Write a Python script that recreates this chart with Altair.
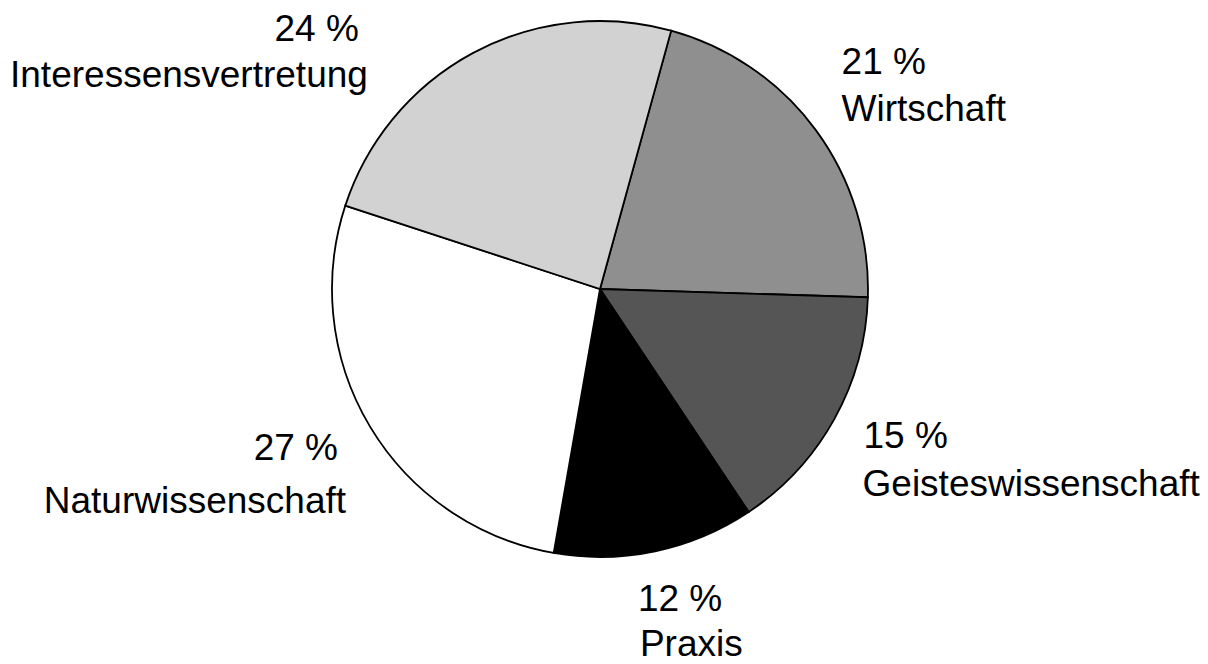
import math
import altair as alt
import pandas as pd

# ---- data ----
categories = ["Wirtschaft", "Geisteswissenschaft", "Praxis", "Naturwissenschaft", "Interessensvertretung"]
shares = [21, 15, 12, 27, 24]
pct_labels = ["21 %", "15 %", "12 %", "27 %", "24 %"]
order = [0, 1, 2, 3, 4]

# ---- styles ----
fills = ["#8f8f8f", "#555555", "#000000", "#ffffff", "#d2d2d2"]
start = math.radians(15.4)
FONT = "Liberation Sans"
FS = 37
LABEL_R = 330
# per label: align, (dx, dy) for percent line, (dx, dy) for name line
label_style = {
    "Wirtschaft": ("left", (-24, -19), (-24, 28)),
    "Geisteswissenschaft": ("left", (-25, -1), (-26, 47)),
    "Praxis": ("left", (-30, -1), (-28, 44)),
    "Naturwissenschaft": ("right", (21, 1), (29, 54)),
    "Interessensvertretung": ("right", (-85, 43), (-76, 89)),
}

df = pd.DataFrame({"category": categories, "share": shares, "pct": pct_labels, "idx": order})

base = alt.Chart(df)
theta = alt.Theta("share:Q", stack=True,
                  scale=alt.Scale(range=[start, start + 2 * math.pi]))

pie = base.mark_arc(outerRadius=268, stroke="black", strokeWidth=1.8).encode(
    theta=theta,
    color=alt.Color("category:N", scale=alt.Scale(domain=categories, range=fills), legend=None),
    order=alt.Order("idx:Q"),
)

layers = [pie]
for cat in categories:
    align, (dx1, dy1), (dx2, dy2) = label_style[cat]
    for field, dx, dy in (("pct", dx1, dy1), ("category", dx2, dy2)):
        t = base.transform_calculate(
            t=f"datum.category == '{cat}' ? datum.{field} : ''"
        ).mark_text(
            radius=LABEL_R, align=align, baseline="alphabetic", dx=dx, dy=dy,
            font=FONT, fontSize=FS, color="black",
        ).encode(
            theta=theta,
            order=alt.Order("idx:Q"),
            text="t:N",
        )
        layers.append(t)

chart = alt.layer(*layers).properties(
    width=1184, height=562,
    autosize=alt.AutoSizeParams(type="none"),
    padding={"left": 0, "top": 0, "right": 8, "bottom": 94},
).configure_view(strokeWidth=0)

chart.save("out.html", embed_options={"renderer": "svg", "actions": False})
